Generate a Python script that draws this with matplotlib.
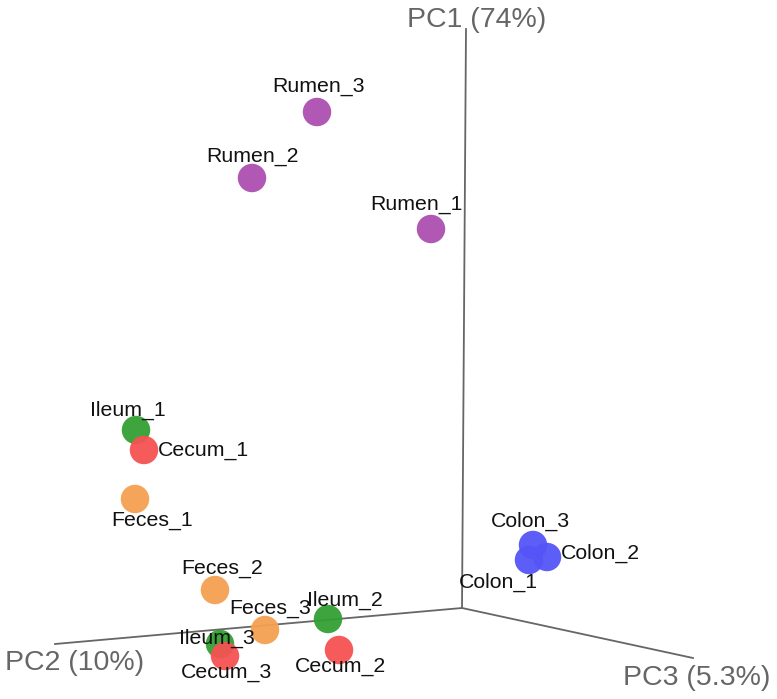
import matplotlib
matplotlib.use("Agg")
import matplotlib.pyplot as plt

# Projected (screen) coordinates of the 3D PCA scores
samples = ["Rumen_3", "Rumen_2", "Rumen_1", "Ileum_1", "Cecum_1", "Feces_1",
           "Feces_2", "Feces_3", "Ileum_2", "Ileum_3", "Cecum_3", "Cecum_2",
           "Colon_3", "Colon_2", "Colon_1"]
groups = ["Rumen", "Rumen", "Rumen", "Ileum", "Cecum", "Feces",
          "Feces", "Feces", "Ileum", "Ileum", "Cecum", "Cecum",
          "Colon", "Colon", "Colon"]
proj_x = [317, 252, 431, 136, 144, 135, 215, 265, 328, 220, 225, 339, 533, 547, 529]
proj_y = [112, 178, 229, 430, 450, 499, 590, 630, 619, 644, 656, 650, 545, 557, 560]

group_colors = {"Rumen": "#AD4FB0", "Ileum": "#33A033", "Cecum": "#F55252",
                "Feces": "#F5A050", "Colon": "#5454F7"}

# Axis directions in projected space
origin = (462, 608)
axis_ends = {"PC1 (74%)": (466, 29), "PC2 (10%)": (55, 644), "PC3 (5.3%)": (693, 658)}

# label offsets (dx, dy, ha)
label_off = {
    "Rumen_3": (1, -25, "center"), "Rumen_2": (0, -22, "center"), "Rumen_1": (-15, -24, "center"),
    "Ileum_1": (-8, -20, "center"), "Cecum_1": (14, 0, "left"), "Feces_1": (17, 21, "center"),
    "Feces_2": (7, -22, "center"), "Feces_3": (5, -21, "center"), "Ileum_2": (17, -19, "center"),
    "Ileum_3": (-3, -6, "center"), "Cecum_3": (1, 17, "center"), "Cecum_2": (1, 16, "center"),
    "Colon_3": (-3, -24, "center"), "Colon_2": (14, -4, "left"), "Colon_1": (-31, 22, "center"),
}

plt.rcParams["font.family"] = ["Liberation Sans", "DejaVu Sans"]
fig = plt.figure(figsize=(7.77, 6.99), dpi=100)
ax = fig.add_axes([0, 0, 1, 1])
ax.set_xlim(0, 777)
ax.set_ylim(699, 0)
ax.axis("off")

for name, (ex, ey) in axis_ends.items():
    ax.plot([origin[0], ex], [origin[1], ey], color="#666666", lw=1.3, zorder=1)

ax.text(477, 20, "PC1 (74%)", fontsize=20.5, color="#666666", ha="center", va="center")
ax.text(75, 663, "PC2 (10%)", fontsize=20.5, color="#666666", ha="center", va="center")
ax.text(697, 678, "PC3 (5.3%)", fontsize=20.5, color="#666666", ha="center", va="center")

for s, g, x, y in zip(samples, groups, proj_x, proj_y):
    ax.scatter([x], [y], s=420, color=group_colors[g], edgecolors="none", alpha=0.95, zorder=2)

for s, x, y in zip(samples, proj_x, proj_y):
    dx, dy, ha = label_off[s]
    ax.text(x + dx, y + dy, s, fontsize=15.3, color="#111111", ha=ha, va="center", zorder=3)

fig.savefig("out.png", dpi=100)
